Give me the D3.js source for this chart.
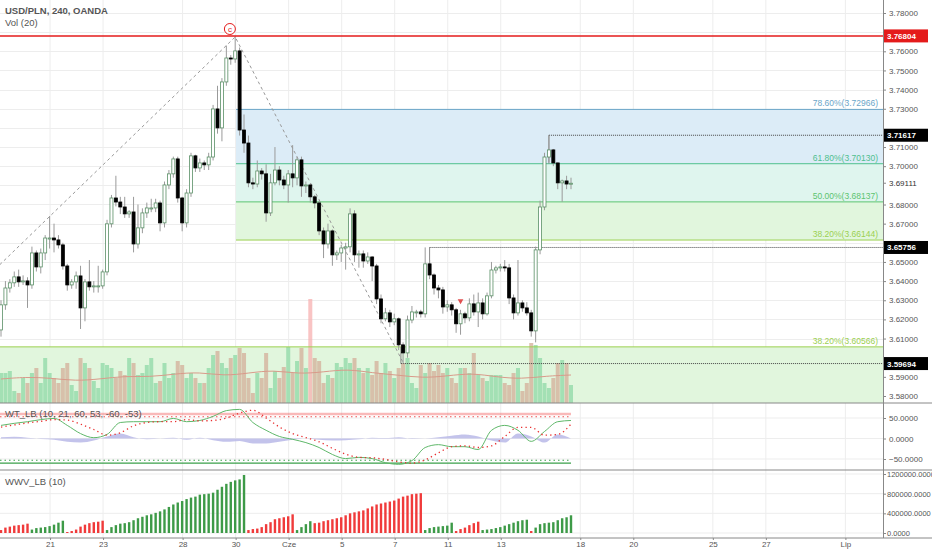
<!DOCTYPE html>
<html>
<head>
<meta charset="utf-8">
<script src="https://cdn.jsdelivr.net/npm/d3@7"></script>
<style>
	body { margin: 0; background: #fff; }
	svg { font-family: "Liberation Sans", Arial, sans-serif; }
	.title { font-size: 9.5px; fill: #555; }
</style>
</head>
<body>
<svg id="chart" width="932" height="550"></svg>
<script>
// price data, 4h bars, open of each bar = previous close
var firstOpen = 3.6145;
var closes = [3.6276,3.6364,3.6391,3.6422,3.6396,3.6401,3.6380,3.6547,3.6474,3.6547,
	3.6625,3.6625,3.6615,3.6589,3.6479,3.6380,3.6396,3.6427,3.6260,3.6396,
	3.6370,3.6375,3.6375,3.6448,3.6699,3.6834,3.6813,3.6787,3.6751,3.6761,
	3.6594,3.6678,3.6756,3.6782,3.6782,3.6808,3.6704,3.6902,3.6960,3.7038,
	3.6834,3.6704,3.6860,3.7054,3.6991,3.7017,3.7007,3.7048,3.7299,3.7200,
	3.7440,3.7565,3.7560,3.7602,3.7189,3.7121,3.6913,3.6907,3.6975,3.6960,
	3.6756,3.6913,3.6980,3.6928,3.6902,3.6960,3.6939,3.7033,3.6897,3.6902,
	3.6840,3.6808,3.6662,3.6594,3.6662,3.6537,3.6547,3.6573,3.6579,3.6751,
	3.6537,3.6542,3.6505,3.6526,3.6479,3.6307,3.6203,3.6234,3.6187,3.6203,
	3.6067,3.6025,3.6197,3.6239,3.6239,3.6229,3.6490,3.6432,3.6364,3.6354,
	3.6265,3.6276,3.6250,3.6177,3.6229,3.6208,3.6281,3.6239,3.6286,3.6229,
	3.6323,3.6458,3.6469,3.6474,3.6469,3.6312,3.6234,3.6286,3.6260,3.6234,
	3.6140,3.6563,3.6787,3.7048,3.7085,3.7017,3.6913,3.6923,3.6907,3.6911];
var highs = [3.630,3.640,3.641,3.645,3.646,3.643,3.642,3.658,3.656,3.657,
	3.664,3.674,3.670,3.664,3.660,3.649,3.641,3.645,3.648,3.641,
	3.651,3.640,3.648,3.646,3.672,3.685,3.695,3.684,3.684,3.677,
	3.684,3.680,3.678,3.681,3.683,3.683,3.682,3.692,3.698,3.705,
	3.705,3.684,3.688,3.707,3.706,3.704,3.703,3.707,3.732,3.742,
	3.746,3.763,3.758,3.768,3.762,3.727,3.716,3.694,3.703,3.699,
	3.701,3.696,3.710,3.700,3.695,3.698,3.711,3.705,3.705,3.692,
	3.691,3.685,3.682,3.668,3.670,3.667,3.656,3.659,3.660,3.678,
	3.677,3.656,3.656,3.655,3.653,3.649,3.633,3.626,3.625,3.623,
	3.621,3.608,3.622,3.627,3.625,3.625,3.6576,3.651,3.644,3.638,
	3.637,3.630,3.629,3.626,3.625,3.624,3.631,3.633,3.634,3.631,
	3.634,3.650,3.648,3.649,3.651,3.649,3.633,3.651,3.630,3.629,
	3.625,3.658,3.682,3.707,3.7162,3.709,3.702,3.693,3.695,3.694];
var lows = [3.611,3.625,3.634,3.637,3.637,3.638,3.626,3.636,3.645,3.644,
	3.651,3.657,3.655,3.657,3.646,3.635,3.636,3.636,3.615,3.619,
	3.635,3.634,3.634,3.636,3.643,3.668,3.679,3.675,3.673,3.673,
	3.655,3.657,3.665,3.673,3.676,3.676,3.666,3.668,3.688,3.694,
	3.681,3.666,3.668,3.684,3.697,3.697,3.698,3.698,3.703,3.717,
	3.713,3.742,3.753,3.754,3.716,3.707,3.689,3.688,3.689,3.693,
	3.671,3.674,3.690,3.690,3.688,3.681,3.689,3.690,3.684,3.686,
	3.681,3.678,3.664,3.652,3.657,3.648,3.651,3.650,3.646,3.655,
	3.650,3.647,3.647,3.649,3.640,3.628,3.618,3.619,3.616,3.617,
	3.604,3.5969,3.600,3.618,3.621,3.621,3.621,3.641,3.633,3.631,
	3.623,3.624,3.622,3.613,3.612,3.618,3.619,3.622,3.616,3.620,
	3.622,3.631,3.644,3.645,3.645,3.628,3.620,3.622,3.624,3.622,
	3.611,3.608,3.654,3.677,3.702,3.700,3.688,3.6814,3.688,3.688];
var volumes = [30,30,32,12,10,25,20,30,35,20, 45,30,25,20,35,40,18,12,45,40,
	35,22,15,40,38,35,25,32,28,45, 40,28,30,38,45,20,22,40,25,30,
	42,38,25,30,25,20,20,35,48,52, 40,35,45,48,55,50,25,10,30,25,
	50,15,32,25,36,56,30,42,55,35, 104,45,42,20,28,25,40,36,45,40,
	45,35,30,35,28,42,30,40,32,25, 35,40,45,20,15,38,30,40,32,38,
	30,35,25,20,35,35,30,50,28,25, 22,28,28,28,20,18,30,35,12,20,
	60,58,45,20,15,25,40,43,40,18];
var volMA = [24,26,25,22,24,27,26,29,31,27,30,33,29,31,34,30,28,25,27,30,26,24,27,28];
// WT_LB, sampled every 3 bars
var wtStep = 3;
var wt1 = [32,37,41,46,49,32,12,2,10,39,41,41,41,49,41,44,54,68,71,39,20,5,-2,-10,-22,-39,-49,-46,-49,-59,-63,-54,-22,-15,-20,-20,-27,20,32,20,-7,17,41,44];
var wt2 = [28,33,38,42,46,45,35,22,8,14,31,39,41,41,46,43,44,50,62,69,50,28,12,2,-8,-24,-38,-46,-47,-51,-57,-60,-52,-35,-20,-18,-22,-18,5,27,27,8,10,35];
var wtHist = [3,4,2,-1,-3,-8,-10,-5,5,12,3,-2,0,2,-3,2,-4,-8,-6,-12,-12,-8,-3,0,-3,-5,-4,-2,2,1,3,-1,0,3,7,10,5,-5,-10,12,5,-10,10,0];
var wtLevels = [60, 53, -53, -60];
// WWV_LB, thousands, negative = red
var wwv = [-60,-110,-130,-150,-160,-170,-190,
	70,100,110,120,140,170,210,250,
	-20,-40,-70,-130,-170,-200,-220,-230,-250,
	60,120,160,190,200,220,260,300,330,360,380,410,440,480,530,580,620,650,690,720,740,780,790,800,820,880,940,1000,1040,1070,1090,1180,
	-60,-80,-90,-120,-180,-220,-280,-300,-320,-340,-380,
	60,120,180,240,
	-200,-210,-240,-260,-280,-300,-320,-360,-400,-420,-440,-460,-500,-540,-580,-600,-620,-640,-660,-700,-740,-760,-790,-800,-810,
	60,100,120,130,140,150,210,
	-40,-80,-110,-160,-200,-230,
	60,70,80,100,120,150,180,210,240,260,270,
	-40,
	110,180,200,210,220,260,300,320,360];
// axis
var dayLabels = ["21","23","28","30","Cze","5","7","11","13","18","20","25","27","Lip"];
var dayIdx = [0,2,5,7,9,11,13,15,17,20,22,25,27,30];
var priceTicks = [3.58,3.59,3.60,3.61,3.62,3.63,3.64,3.65,3.66,3.67,3.68,3.69,3.70,3.71,3.72,3.73,3.74,3.75,3.76,3.77,3.78];
var wtTicks = [50, 0, -50];
var wwvTicks = [0, 400000, 800000, 1200000];
// fibonacci
var fibLabels = ["78.60%", "61.80%", "50.00%", "38.20%"];
var fibPrices = [3.72966, 3.70130, 3.68137, 3.66144];
var fibLow = { label: "38.20%", price: 3.60566 };
var zigzag = [{ i: -0.3, p: 3.6485 }, { i: 53, p: 3.7675 }, { i: 91, p: 3.5975 }];
var redLine = 3.76804;
var markers = [{ i: 124, p: 3.71617, from: 3.70130 }, { i: 97, p: 3.65756, from: 3.6490 }, { i: 90.5, p: 3.59694, from: 3.60566 }];
var lastPrice = 3.69111;

(function () {
	var svg = d3.select("#chart");
	var R = 883, W = 932;
	var x = d3.scaleLinear().domain([0, 129]).range([1, 571]);
	var y = d3.scaleLinear().domain([3.58, 3.78]).range([396, 13]);
	var yv = d3.scaleLinear().domain([0, 104]).range([403, 299]);
	var yw = d3.scaleLinear().domain([-50, 50]).range([459, 418]);
	var yq = d3.scaleLinear().domain([0, 1200000]).range([533, 474]);
	var fmt5 = d3.format(".5f"), fmt4 = d3.format(".4f");
	var fibCol = ["#6aa5c8", "#4fbf8f", "#5cc470", "#9bd050"];
	var fibFill = ["#dcecf7", "#dff5ee", "#e1f6dd"];
	var bars = closes.map(function (c, i) {
		return { i: i, o: i ? closes[i - 1] : firstOpen, c: c, h: highs[i], l: lows[i], v: volumes[i] };
	});
	var tagged = [redLine, lastPrice].concat(markers.map(function (m) { return m.p; }));
	var shownTicks = priceTicks.filter(function (t) {
		return tagged.every(function (p) { return Math.abs(y(p) - y(t)) > 9; });
	});

	// grid
	var grid = svg.append("g");
	grid.selectAll(".hg").data(priceTicks).enter().append("line")
		.attr("x1", 0).attr("x2", R).attr("y1", function (d) { return Math.round(y(d)) + 0.5; })
		.attr("y2", function (d) { return Math.round(y(d)) + 0.5; }).attr("stroke", "#ededed");
	grid.selectAll(".wg").data(wtTicks).enter().append("line")
		.attr("x1", 0).attr("x2", R).attr("y1", function (d) { return yw(d); }).attr("y2", function (d) { return yw(d); }).attr("stroke", "#ededed");
	grid.selectAll(".qg").data(wwvTicks).enter().append("line")
		.attr("x1", 0).attr("x2", R).attr("y1", function (d) { return yq(d); }).attr("y2", function (d) { return yq(d); }).attr("stroke", "#ededed");
	grid.selectAll(".vg").data(dayIdx).enter().append("line")
		.attr("x1", function (d) { return x(6 * d + 11.1); }).attr("x2", function (d) { return x(6 * d + 11.1); })
		.attr("y1", 0).attr("y2", 538).attr("stroke", "#ededed");

	// fib zones
	var fx = 236;
	for (var k = 0; k < 3; k++) {
		svg.append("rect").attr("x", fx).attr("y", y(fibPrices[k])).attr("width", R - fx)
			.attr("height", y(fibPrices[k + 1]) - y(fibPrices[k])).attr("fill", fibFill[k]);
	}
	svg.append("rect").attr("x", 0).attr("y", y(fibLow.price)).attr("width", R)
		.attr("height", 403 - y(fibLow.price)).attr("fill", "#e1f6dd");

	// volume
	svg.append("g").selectAll("rect").data(bars).enter().append("rect")
		.attr("x", function (d) { return x(d.i) - 2; }).attr("width", 4)
		.attr("y", function (d) { return yv(d.v); }).attr("height", function (d) { return 403 - yv(d.v); })
		.attr("fill", function (d) { return d.v > 90 ? "#f7b0b0" : (d.c >= d.o ? "#8ed8a6" : "#d3ae98"); })
		.attr("opacity", 0.75);
	svg.append("path").datum(volMA)
		.attr("d", d3.line().x(function (d, i) { return x(i * 129 / (volMA.length - 1)); }).y(function (d) { return yv(d); }).curve(d3.curveBasis))
		.attr("fill", "none").attr("stroke", "#d99a8a").attr("stroke-width", 1);

	// fib lines
	svg.selectAll(".fl").data(fibPrices).enter().append("line")
		.attr("x1", fx).attr("x2", R).attr("y1", function (d) { return y(d); }).attr("y2", function (d) { return y(d); })
		.attr("stroke", function (d, i) { return fibCol[i]; }).attr("stroke-width", 1);
	svg.selectAll(".ft").data(fibPrices).enter().append("text")
		.attr("x", 878).attr("y", function (d) { return y(d) - 3; }).attr("text-anchor", "end")
		.attr("font-size", "8.5px").attr("fill", function (d, i) { return fibCol[i]; })
		.text(function (d, i) { return fibLabels[i] + "(" + fmt5(d) + ")"; });
	svg.append("line").attr("x1", 0).attr("x2", R).attr("y1", y(fibLow.price)).attr("y2", y(fibLow.price))
		.attr("stroke", "#9bd050");
	svg.append("text").attr("x", 878).attr("y", y(fibLow.price) - 3).attr("text-anchor", "end")
		.attr("font-size", "8.5px").attr("fill", "#9bd050").text(fibLow.label + "(" + fmt5(fibLow.price) + ")");

	// zigzag
	svg.append("path").datum(zigzag)
		.attr("d", d3.line().x(function (d) { return x(d.i); }).y(function (d) { return y(d.p); }))
		.attr("fill", "none").attr("stroke", "#999").attr("stroke-dasharray", "3,3");

	// marker levels
	markers.forEach(function (m) {
		svg.append("line").attr("x1", x(m.i)).attr("x2", x(m.i)).attr("y1", y(m.from)).attr("y2", y(m.p)).attr("stroke", "#888");
		svg.append("line").attr("x1", x(m.i)).attr("x2", R).attr("y1", y(m.p)).attr("y2", y(m.p))
			.attr("stroke", "#444").attr("stroke-dasharray", "1,1");
	});

	// candles
	var cg = svg.append("g");
	cg.selectAll("line").data(bars).enter().append("line")
		.attr("x1", function (d) { return x(d.i); }).attr("x2", function (d) { return x(d.i); })
		.attr("y1", function (d) { return y(d.h); }).attr("y2", function (d) { return y(d.l); })
		.attr("stroke", "#9a9a9a");
	cg.selectAll("rect").data(bars).enter().append("rect")
		.attr("x", function (d) { return x(d.i) - 1.5; }).attr("width", 3)
		.attr("y", function (d) { return y(Math.max(d.o, d.c)); })
		.attr("height", function (d) { return Math.max(1, Math.abs(y(d.o) - y(d.c))); })
		.attr("fill", function (d) { return d.c >= d.o ? "#fff" : "#000"; })
		.attr("stroke", function (d) { return d.c >= d.o ? "#5a8f66" : "#000"; }).attr("stroke-width", 0.8);

	// red line + c mark
	svg.append("line").attr("x1", 0).attr("x2", R).attr("y1", y(redLine)).attr("y2", y(redLine)).attr("stroke", "#e41b1b").attr("stroke-width", 1.5);
	svg.append("circle").attr("cx", x(51.8)).attr("cy", 29).attr("r", 5.5).attr("fill", "#fff").attr("stroke", "#e41b1b");
	svg.append("text").attr("x", x(51.8)).attr("y", 32).attr("text-anchor", "middle").attr("font-size", "8px").attr("fill", "#e41b1b").text("c");
	svg.append("path").attr("d", d3.symbol(d3.symbolTriangle, 14)()).attr("transform", "translate(" + x(104) + ",301) rotate(180)").attr("fill", "#e05050");

	// WT
	var wx = function (d, i) { return x(i * wtStep); };
	svg.append("path").datum(wtHist)
		.attr("d", d3.area().x(wx).y0(yw(0)).y1(function (d) { return yw(d); }).curve(d3.curveMonotoneX))
		.attr("fill", "#b9b9e8").attr("opacity", 0.85);
	svg.selectAll(".lv").data(wtLevels).enter().append("line")
		.attr("x1", 0).attr("x2", x(129))
		.attr("y1", function (d) { return yw(d); }).attr("y2", function (d) { return yw(d); })
		.attr("stroke", function (d) { return d > 0 ? "#f05050" : "#3aa04a"; })
		.attr("stroke-width", function (d) { return d === 60 ? 2.5 : 1.2; })
		.attr("stroke-opacity", function (d) { return d === 60 ? 0.4 : 1; })
		.attr("stroke-dasharray", function (d) { return Math.abs(d) === 53 ? "1.5,3" : null; });
	svg.append("path").datum(wt1)
		.attr("d", d3.line().x(wx).y(function (d) { return yw(d); }).curve(d3.curveMonotoneX))
		.attr("fill", "none").attr("stroke", "#5fb86a").attr("stroke-width", 1);
	svg.append("path").datum(wt2)
		.attr("d", d3.line().x(wx).y(function (d) { return yw(d); }).curve(d3.curveMonotoneX))
		.attr("fill", "none").attr("stroke", "#e83030").attr("stroke-width", 1.3).attr("stroke-dasharray", "1.3,3.2");

	// WWV
	svg.append("g").selectAll("rect").data(wwv).enter().append("rect")
		.attr("x", function (d, i) { return x(i) - 1.2; }).attr("width", 2.4)
		.attr("y", function (d) { return yq(Math.abs(d) * 1000); })
		.attr("height", function (d) { return yq(0) - yq(Math.abs(d) * 1000); })
		.attr("fill", function (d) { return d < 0 ? "#f03a3a" : "#3d9a47"; });

	// pane borders
	[403, 470, 538].forEach(function (py) {
		svg.append("line").attr("x1", 0).attr("x2", W).attr("y1", py).attr("y2", py).attr("stroke", "#888");
	});
	svg.append("line").attr("x1", R + 0.5).attr("x2", R + 0.5).attr("y1", 0).attr("y2", 538).attr("stroke", "#888");

	// axes
	function styleAxis(g) {
		g.select(".domain").remove();
		g.selectAll("line").attr("stroke", "#888");
		g.selectAll("text").attr("fill", "#555").attr("font-size", "8px");
	}
	svg.append("g").attr("transform", "translate(" + R + ",0)")
		.call(d3.axisRight(y).tickValues(shownTicks).tickFormat(fmt5).tickSize(3)).call(styleAxis);
	svg.append("g").attr("transform", "translate(" + R + ",0)")
		.call(d3.axisRight(yw).tickValues(wtTicks).tickFormat(fmt4).tickSize(3)).call(styleAxis);
	svg.append("g").attr("transform", "translate(" + R + ",0)")
		.call(d3.axisRight(yq).tickValues(wwvTicks).tickFormat(fmt4).tickSize(3).tickPadding(1)).call(styleAxis)
		.selectAll("text").attr("font-size", "7.5px");
	var xa = svg.append("g").attr("transform", "translate(0,538)")
		.call(d3.axisBottom(x).tickValues(dayIdx.map(function (d) { return 6 * d + 11.1; }))
			.tickFormat(function (d, i) { return dayLabels[i]; }).tickSize(2).tickPadding(1));
	styleAxis(xa);

	// price labels
	function tag(p, bg) {
		svg.append("rect").attr("x", R + 1).attr("y", y(p) - 6.5).attr("width", 44).attr("height", 13).attr("fill", bg);
		svg.append("text").attr("x", R + 4).attr("y", y(p) + 3).attr("font-size", "8px").attr("font-weight", "bold")
			.attr("fill", "#fff").text(fmt5(p));
	}
	tag(redLine, "#e41b1b");
	markers.forEach(function (m) { tag(m.p, "#000"); });
	svg.append("line").attr("x1", R).attr("x2", R + 3).attr("y1", y(lastPrice)).attr("y2", y(lastPrice)).attr("stroke", "#888");
	svg.append("text").attr("x", R + 6).attr("y", y(lastPrice) + 3).attr("font-size", "8px").attr("fill", "#333").text(fmt5(lastPrice));

	// titles
	svg.append("text").attr("class", "title").attr("x", 5).attr("y", 14).attr("font-weight", "bold").text("USD/PLN, 240, OANDA");
	svg.append("text").attr("class", "title").attr("x", 5).attr("y", 26).text("Vol (20)");
	svg.append("text").attr("class", "title").attr("x", 5).attr("y", 417).text("WT_LB (10, 21, 60, 53, -60, -53)");
	svg.append("text").attr("class", "title").attr("x", 5).attr("y", 485).text("WWV_LB (10)");
})();
</script>
</body>
</html>
